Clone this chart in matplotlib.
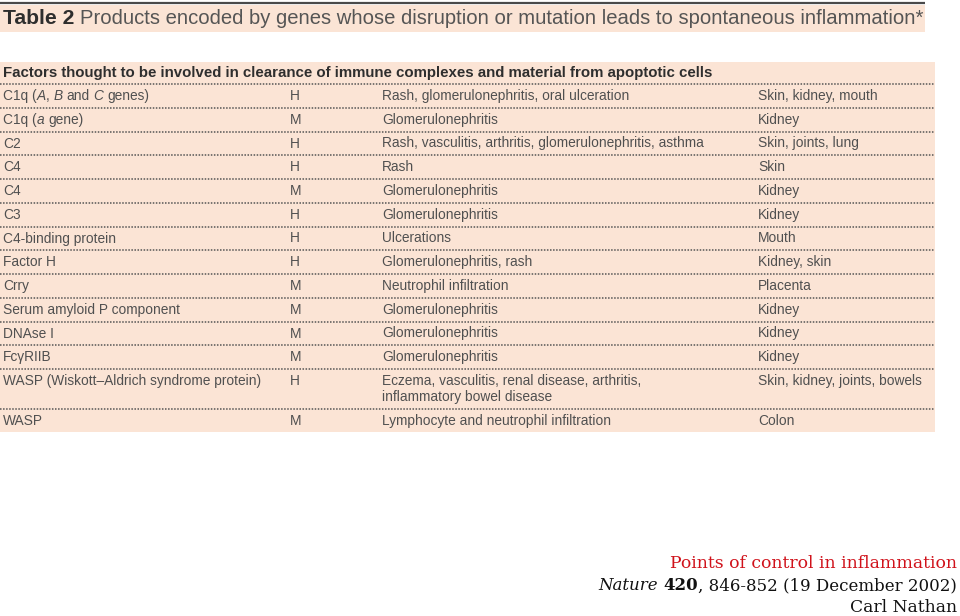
import matplotlib
matplotlib.use("Agg")
import matplotlib.pyplot as plt
from matplotlib.patches import Rectangle

# ---------------- data ----------------
title_bold = "Table 2"
title_rest = "Products encoded by genes whose disruption or mutation leads to spontaneous inflammation*"
section_header = "Factors thought to be involved in clearance of immune complexes and material from apoptotic cells"

# *...* marks italic segments, **...** bold
products = [
    "C1q (*A*, *B* and *C* genes)",
    "C1q (*a* gene)",
    "C2",
    "C4",
    "C4",
    "C3",
    "C4-binding protein",
    "Factor H",
    "Crry",
    "Serum amyloid P component",
    "DNAse I",
    "Fc\u03b3RIIB",
    "WASP (Wiskott\u2013Aldrich syndrome protein)",
    "WASP",
]
species = ["H", "M", "H", "H", "M", "H", "H", "H", "M", "M", "M", "M", "H", "M"]
phenotypes = [
    "Rash, glomerulonephritis, oral ulceration",
    "Glomerulonephritis",
    "Rash, vasculitis, arthritis, glomerulonephritis, asthma",
    "Rash",
    "Glomerulonephritis",
    "Glomerulonephritis",
    "Ulcerations",
    "Glomerulonephritis, rash",
    "Neutrophil infiltration",
    "Glomerulonephritis",
    "Glomerulonephritis",
    "Glomerulonephritis",
    "Eczema, vasculitis, renal disease, arthritis,\ninflammatory bowel disease",
    "Lymphocyte and neutrophil infiltration",
]
organs = [
    "Skin, kidney, mouth",
    "Kidney",
    "Skin, joints, lung",
    "Skin",
    "Kidney",
    "Kidney",
    "Mouth",
    "Kidney, skin",
    "Placenta",
    "Kidney",
    "Kidney",
    "Kidney",
    "Skin, kidney, joints, bowels",
    "Colon",
]
credit_title = "Points of control in inflammation"
credit_ref = "*Nature* **420**, 846-852 (19 December 2002)"
credit_author = "Carl Nathan"

# ---------------- layout ----------------
W, H = 960, 616
fig = plt.figure(figsize=(W / 100, H / 100), dpi=100)
ax = fig.add_axes([0, 0, 1, 1])
ax.set_xlim(0, W)
ax.set_ylim(H, 0)
ax.axis("off")

PEACH = "#FBE4D5"
TXT = "#505050"
DARK = "#2e2e2e"
SANS = ["Liberation Sans", "DejaVu Sans"]
SERIF = ["DejaVu Serif"]
ROW_FS = 9.9

renderer = fig.canvas.get_renderer()


def parse(s):
    segs = []
    i = 0
    cur = ""
    style = "n"
    while i < len(s):
        if s.startswith("**", i):
            if cur:
                segs.append((cur, style))
            cur = ""
            style = "n" if style == "b" else "b"
            i += 2
        elif s[i] == "*":
            if cur:
                segs.append((cur, style))
            cur = ""
            style = "n" if style == "i" else "i"
            i += 1
        else:
            cur += s[i]
            i += 1
    if cur:
        segs.append((cur, style))
    return segs


def text_width(s, **kw):
    t = ax.text(0, 0, s, **kw)
    w = t.get_window_extent(renderer).width
    t.remove()
    return w


def seg_width(s, **kw):
    core = s.rstrip(" ")
    ntr = len(s) - len(core)
    lead = len(core) - len(core.lstrip(" "))
    core = core.strip(" ")
    sp = text_width("a a", **kw) - text_width("aa", **kw)
    w = text_width(core, **kw) if core else 0
    return w + (ntr + lead) * sp, lead * sp


def rich(x, y, s, ha="left", size=ROW_FS, family=SANS, color=TXT):
    segs = parse(s)
    items = []
    total = 0
    for txt, st in segs:
        kw = dict(fontsize=size, family=family,
                  fontweight="bold" if st == "b" else "normal",
                  fontstyle="italic" if st == "i" else "normal")
        w, lead = seg_width(txt, **kw)
        items.append((txt, kw, w, lead))
        total += w
    cx = x - total if ha == "right" else x
    for txt, kw, w, lead in items:
        if txt.strip():
            ax.text(cx + lead, y, txt.strip(" "), va="center", ha="left",
                    color=color, **kw)
        cx += w


# title band
ax.plot([0, 925], [3, 3], color="#4a4a4a", lw=1.6, solid_capstyle="butt")
ax.add_patch(Rectangle((0, 5), 925, 27, color=PEACH, lw=0))
tb = ax.text(3, 18.5, title_bold, fontsize=15.2, family=SANS, fontweight="bold",
             color=DARK, va="center", ha="left")
wb = tb.get_window_extent(renderer).width
ax.text(3 + wb + 6, 18.5, title_rest, fontsize=14.6, family=SANS, color="#555555",
        va="center", ha="left")

# table background
ax.add_patch(Rectangle((0, 62), 935, 370, color=PEACH, lw=0))
ax.text(3, 73, section_header, fontsize=10.8, family=SANS, fontweight="bold",
        color=DARK, va="center", ha="left")

DOT = dict(color="#555555", lw=1.1, linestyle=(0, (1, 1)))
cols = [3, 290, 382, 758]
y = 96.0
step = 23.75
line_gap = 16
ax.plot([0, 935], [84, 84], **DOT)
for i in range(len(products)):
    lines = phenotypes[i].split("\n")
    rich(cols[0], y, products[i])
    ax.text(cols[1], y, species[i], fontsize=ROW_FS, family=SANS, color=TXT,
            va="center", ha="left")
    for k, line in enumerate(lines):
        ax.text(cols[2], y + k * line_gap, line, fontsize=ROW_FS, family=SANS,
                color=TXT, va="center", ha="left")
    ax.text(cols[3], y, organs[i], fontsize=ROW_FS, family=SANS, color=TXT,
            va="center", ha="left")
    ynext = y + step + (len(lines) - 1) * line_gap
    if i < len(products) - 1:
        ax.plot([0, 935], [ynext - 12, ynext - 12], **DOT)
    y = ynext

# credit
ax.text(957, 563, credit_title, fontsize=12.4, family=SERIF, color="#d0121b",
        va="center", ha="right")
rich(957, 586, credit_ref, ha="right", size=12, family=SERIF, color="#111111")
ax.text(957, 608, credit_author, fontsize=12.3, family=SERIF, color="#111111",
        va="center", ha="right")

fig.savefig("out.png", dpi=100, facecolor="white")
